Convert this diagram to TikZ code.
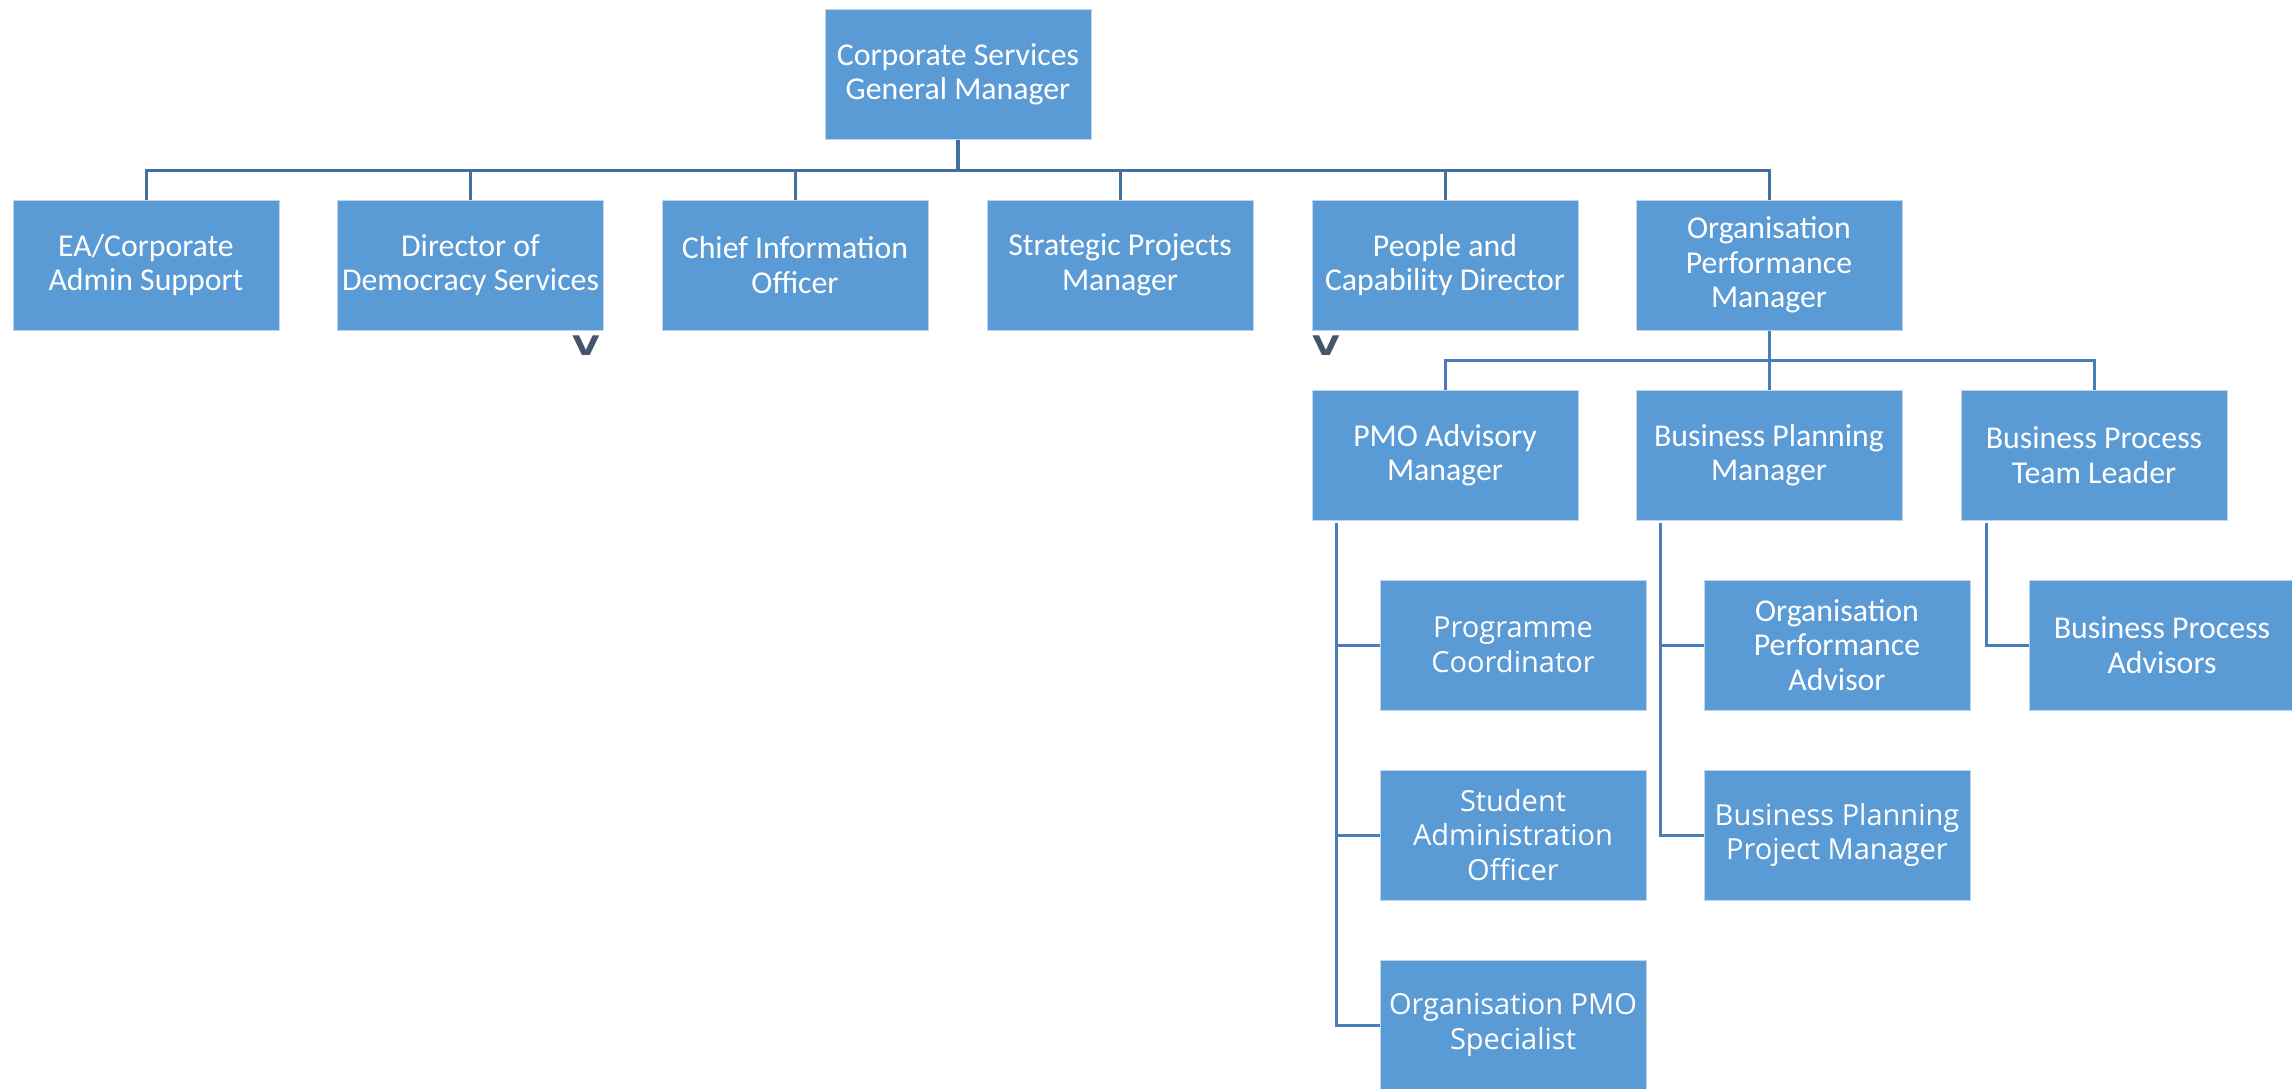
\documentclass[tikz,border=0pt]{standalone}
\usepackage{fontspec}
\setmainfont{Carlito}
\newfontfamily\opensans{Open Sans}
\newfontfamily\dejabold{DejaVu Sans}
\usetikzlibrary{calc}
\definecolor{boxblue}{HTML}{5B9BD5}
\definecolor{boxedge}{HTML}{BFD5EE}
\definecolor{linetop}{HTML}{41719C}
\definecolor{linemid}{HTML}{4A7EBB}
\definecolor{chev}{HTML}{44546A}
\tikzset{
  card/.style={rectangle, fill=boxblue, draw=boxedge, line width=1pt,
    minimum width=266pt, minimum height=130pt, inner sep=0pt,
    text=white, align=center,
    font=\fontsize{31.8}{34.5}\selectfont},
  cardos/.style={card, font=\opensans\fontsize{29}{34.5}\selectfont},
  busline/.style={draw=linetop, line width=3pt},
  topline/.style={draw=linetop, line width=4pt},
  subline/.style={draw=linemid, line width=3pt},
  chevmark/.style={text=chev, inner sep=0pt, font=\dejabold\bfseries\fontsize{27}{27}\selectfont, xscale=1.3}
}
\begin{document}
\begin{tikzpicture}[x=1pt,y=-1pt]
\useasboundingbox[fill=white] (0,0) rectangle (2292,1088);

% top
\node[card] (top) at (958,74.5) {Corporate Services\\General Manager};

% row 1
\node[card] (ea)  at (146,265)  {EA/Corporate\\Admin Support};
\node[card] (dir) at (470.5,265) {Director of\\Democracy Services};
\node[card] (cio) at (795,265)  {Chief Information\\Officer};
\node[card] (spm) at (1120,265) {Strategic Projects\\Manager};
\node[card] (pcd) at (1445,265) {People and\\Capability Director};
\node[card] (opm) at (1769,265) {Organisation\\Performance\\Manager};

% collapse marks
\node[chevmark] (vdir) at (586,346) {V};
\node[chevmark] (vpcd) at (1326,346) {V};

% row 2
\node[card] (pmo)  at (1445,455) {PMO Advisory\\Manager};
\node[card] (bpm)  at (1769,455) {Business Planning\\Manager};
\node[card] (bptl) at (2094,455) {Business Process\\Team Leader};

% children
\node[cardos] (pc)   at (1513,645)  {Programme\\Coordinator};
\node[cardos] (sao)  at (1513,835)  {Student\\Administration\\Officer};
\node[cardos] (opmo) at (1513,1025) {Organisation PMO\\Specialist};
\node[card]   (opa)  at (1837,645)  {Organisation\\Performance\\Advisor};
\node[cardos] (bppm) at (1837,835)  {Business Planning\\Project Manager};
\node[card]   (bpa)  at (2162,645)  {Business Process\\Advisors};

% connectors level 1
\coordinate (bus1) at (958,171);
\draw[topline] (top.south) -- (bus1);
\draw[busline] (ea.north) -- ++(0,-29) -| (opm.north);
\foreach \n in {dir,cio,spm,pcd} \draw[busline] (\n.north) -- ++(0,-29);

% connectors level 2
\draw[subline] (opm.south) -- (bpm.north);
\draw[subline] (pmo.north) -- ++(0,-29) -| (bptl.north);

% children connectors
\coordinate (pmoT) at ($(pmo.south west)+(25,2)$);
\coordinate (bpmT) at ($(bpm.south west)+(25,2)$);
\coordinate (bptlT) at ($(bptl.south west)+(26,2)$);
\draw[subline] (pmoT) |- (opmo.west);
\draw[subline] (pmoT) |- (pc.west);
\draw[subline] (pmoT) |- (sao.west);
\draw[subline] (bpmT) |- (bppm.west);
\draw[subline] (bpmT) |- (opa.west);
\draw[subline] (bptlT) |- (bpa.west);
\end{tikzpicture}
\end{document}
